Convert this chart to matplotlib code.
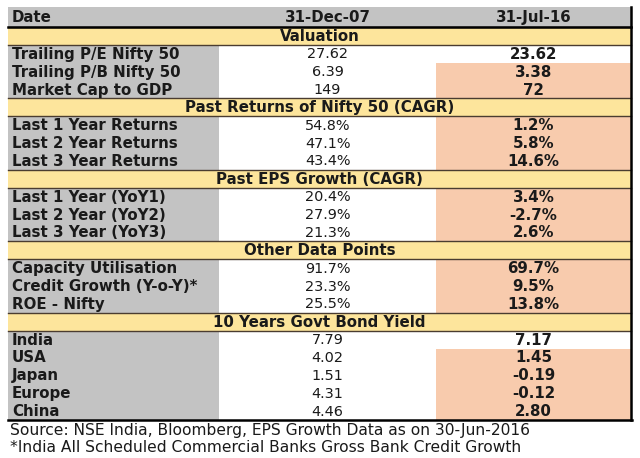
import matplotlib
matplotlib.use("Agg")
import matplotlib.pyplot as plt
from matplotlib.patches import Rectangle

# ---- data ----
header = ["Date", "31-Dec-07", "31-Jul-16"]
sections = ["Valuation", "Past Returns of Nifty 50 (CAGR)", "Past EPS Growth (CAGR)",
            "Other Data Points", "10 Years Govt Bond Yield"]
valuation_labels = ["Trailing P/E Nifty 50", "Trailing P/B Nifty 50", "Market Cap to GDP"]
valuation_dec07 = ["27.62", "6.39", "149"]
valuation_jul16 = ["23.62", "3.38", "72"]
returns_labels = ["Last 1 Year Returns", "Last 2 Year Returns", "Last 3 Year Returns"]
returns_dec07 = ["54.8%", "47.1%", "43.4%"]
returns_jul16 = ["1.2%", "5.8%", "14.6%"]
eps_labels = ["Last 1 Year (YoY1)", "Last 2 Year (YoY2)", "Last 3 Year (YoY3)"]
eps_dec07 = ["20.4%", "27.9%", "21.3%"]
eps_jul16 = ["3.4%", "-2.7%", "2.6%"]
other_labels = ["Capacity Utilisation", "Credit Growth (Y-o-Y)*", "ROE - Nifty"]
other_dec07 = ["91.7%", "23.3%", "25.5%"]
other_jul16 = ["69.7%", "9.5%", "13.8%"]
bond_labels = ["India", "USA", "Japan", "Europe", "China"]
bond_dec07 = ["7.79", "4.02", "1.51", "4.31", "4.46"]
bond_jul16 = ["7.17", "1.45", "-0.19", "-0.12", "2.80"]
unhighlighted = ["Trailing P/E Nifty 50", "India"]
footnotes = ["Source: NSE India, Bloomberg, EPS Growth Data as on 30-Jun-2016",
             "*India All Scheduled Commercial Banks Gross Bank Credit Growth"]

blocks = [
    (valuation_labels, valuation_dec07, valuation_jul16),
    (returns_labels, returns_dec07, returns_jul16),
    (eps_labels, eps_dec07, eps_jul16),
    (other_labels, other_dec07, other_jul16),
    (bond_labels, bond_dec07, bond_jul16),
]

# ---- style ----
GRAY = "#c3c3c3"
YELLOW = "#fde59c"
SALMON = "#f8cbad"
WHITE = "#ffffff"
LINE = "#4a3c30"
TXT = "#1a1a1a"
FSB = 10.85   # bold text
FSR = 10.4    # regular values
FSN = 11.2    # footnotes

x0, x1, x2, x3 = 8, 219, 436, 631
top, head_h = 7, 20
row_h = (420 - 27) / 22.0

fig = plt.figure(figsize=(6.4, 4.58), dpi=100)
ax = fig.add_axes([0, 0, 1, 1])
ax.set_xlim(0, 640)
ax.set_ylim(458, 0)
ax.axis("off")

# header
ax.add_patch(Rectangle((x0, top), x3 - x0, head_h, facecolor=GRAY, edgecolor="none"))
ax.text(x0 + 4, top + head_h / 2 + 0.5, header[0], fontsize=FSB, fontweight="bold",
        color=TXT, va="center", ha="left")
ax.text((x1 + x2) / 2, top + head_h / 2 + 0.5, header[1], fontsize=FSB, fontweight="bold",
        color=TXT, va="center", ha="center")
ax.text((x2 + x3) / 2, top + head_h / 2 + 0.5, header[2], fontsize=FSB, fontweight="bold",
        color=TXT, va="center", ha="center")

y = top + head_h
sec_lines = []
for sec, (labels, d07, j16) in zip(sections, blocks):
    ax.add_patch(Rectangle((x0, y), x3 - x0, row_h, facecolor=YELLOW, edgecolor="none"))
    ax.text((x0 + x3) / 2, y + row_h / 2 + 0.5, sec, fontsize=FSB, fontweight="bold",
            color=TXT, va="center", ha="center")
    sec_lines.append((y, y + row_h))
    y += row_h
    for lab, a, b in zip(labels, d07, j16):
        ax.add_patch(Rectangle((x0, y), x1 - x0, row_h, facecolor=GRAY, edgecolor="none"))
        ax.add_patch(Rectangle((x1, y), x2 - x1, row_h, facecolor=WHITE, edgecolor="none"))
        ax.add_patch(Rectangle((x2, y), x3 - x2, row_h,
                               facecolor=WHITE if lab in unhighlighted else SALMON,
                               edgecolor="none"))
        ax.text(x0 + 4, y + row_h / 2 + 0.5, lab, fontsize=FSB, fontweight="bold",
                color=TXT, va="center", ha="left")
        ax.text((x1 + x2) / 2, y + row_h / 2 + 0.5, a, fontsize=FSR,
                color=TXT, va="center", ha="center")
        ax.text((x2 + x3) / 2, y + row_h / 2 + 0.5, b, fontsize=FSB, fontweight="bold",
                color=TXT, va="center", ha="center")
        y += row_h

# lines
for (ya, yb) in sec_lines:
    ax.plot([x0, x3], [ya, ya], color=LINE, lw=1.0)
    ax.plot([x0, x3], [yb, yb], color=LINE, lw=1.0)
ax.plot([x0, x3], [top + head_h, top + head_h], color="black", lw=1.8)
ax.plot([x0, x3 + 1], [y, y], color="black", lw=1.8)
ax.plot([x3, x3], [top, y], color="black", lw=1.8)

# footnotes
ax.text(x0 + 2, 430, footnotes[0], fontsize=FSN, color=TXT, va="center", ha="left")
ax.text(x0 + 2, 447, footnotes[1], fontsize=FSN, color=TXT, va="center", ha="left")

fig.savefig("out.png", dpi=100)
